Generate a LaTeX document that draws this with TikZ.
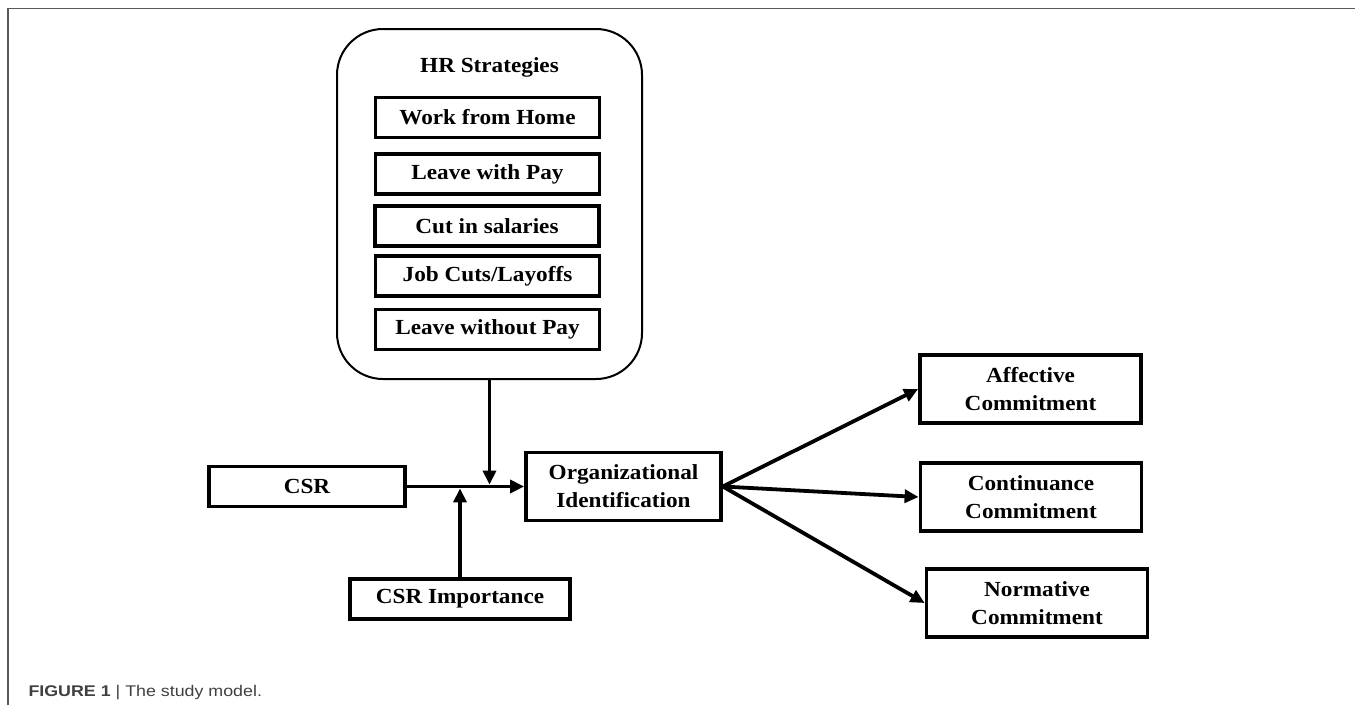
\documentclass[tikz,border=0pt]{standalone}
\usepackage{fontspec}
\setmainfont[FakeStretch=1.08]{Liberation Serif}
\newfontfamily\capfont[FakeStretch=1.15]{Liberation Sans}
\usetikzlibrary{arrows.meta, positioning, calc}

\begin{document}
\begin{tikzpicture}[
    x=1pt, y=-1pt,
    font=\fontsize{21.5}{28}\selectfont\bfseries,
    box/.style={draw, line width=3.8pt, align=center, minimum width=224pt, minimum height=40pt, inner sep=0pt},
    twoline/.style={box, minimum width=221pt, minimum height=68pt},
    group/.style={draw, line width=2pt, rounded corners=46pt, minimum width=305pt, minimum height=350pt},
    arrow/.style={-{Triangle[length=14pt,width=13pt]}, line width=3.8pt},
    frame/.style={draw=black!65, line width=1.5pt}
]
\useasboundingbox (0,0) rectangle (1355,705);

% Figure frame
\draw[frame] (8,705) -- (8,8.5) -- (1355,8.5);

% HR strategies group
\node[group] (hr) at (489.5,204) {};
\node at ($(hr.north)+(0,39)$) (hrtitle) {HR Strategies};
\node at ($(hr.north)+(-2,89.5)$) (wfh) [box] {Work from Home};
\node at ($(hr.north)+(-2,146)$) (lwp) [box] {Leave with Pay};
\node at ($(hr.north)+(-2.5,198)$) (cut) [box] {Cut in salaries};
\node at ($(hr.north)+(-2,248)$) (jobcut) [box] {Job Cuts/Layoffs};
\node at ($(hr.north)+(-2,301.5)$) (lwop) [box] {Leave without Pay};

% CSR and moderator
\node[box, minimum width=196pt] (csr) at (307,486.5) {CSR};
\node[box, minimum width=220pt] (imp) at (460,599) {CSR Importance};

% Mediator
\node[twoline, minimum width=195pt] (orgid) at (623.5,486.5) {Organizational\\Identification};

% Outcomes
\node[twoline] (aff) at (1030.5,389) {Affective\\Commitment};
\node[twoline] (cont) at (1031,497) {Continuance\\Commitment};
\node[twoline] (norm) at (1037,603) {Normative\\Commitment};

% Arrows
\draw[arrow] (csr.east) -- (orgid.west);
\draw[arrow, shorten >=1.9pt] (hr.south -| hrtitle) -- (hrtitle |- csr.east);
\draw[arrow, shorten >=1.9pt] (imp.north) -- (imp.north |- csr.east);
\draw[arrow] (orgid.east) -- (aff.west);
\draw[arrow] (orgid.east) -- (cont.west);
\draw[arrow] (orgid.east) -- (norm.west);

% Caption
\node[anchor=base west, font=\capfont\fontsize{15.5}{18}\selectfont, text=black!75] (caption) at (25,696) {\textbf{FIGURE 1} | The study model.};

\end{tikzpicture}
\end{document}
